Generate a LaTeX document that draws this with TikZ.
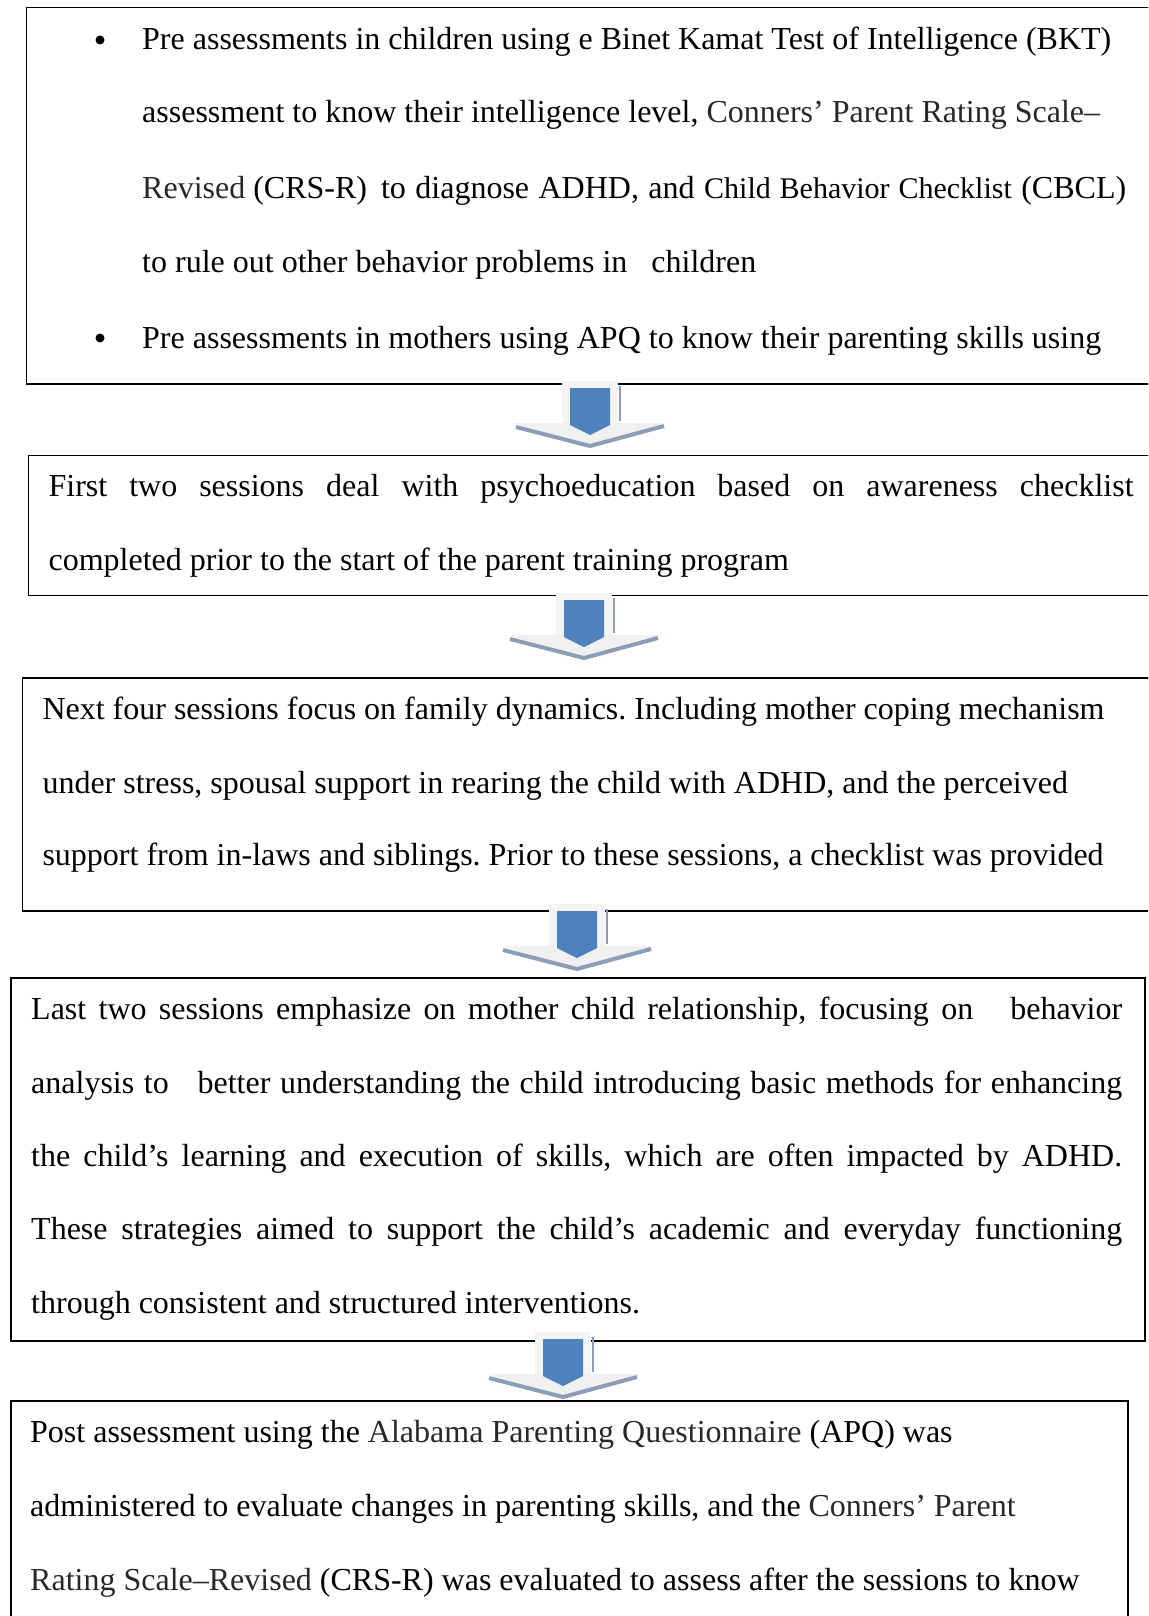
\documentclass[tikz,border=0pt]{standalone}
\usepackage{fontspec}
\setmainfont{Liberation Serif}
\frenchspacing

\definecolor{arrowblue}{HTML}{4F81BD}
\definecolor{arrowshade}{HTML}{8C9DB8}
\definecolor{namegray}{HTML}{26282B}

% one justified line of a given width
\newcommand{\jline}[2]{\makebox[#1pt][s]{#2}}
% block arrow: centre x, top y
\newcommand{\blockarrow}[2]{%
    \fill[gray!12] (#1-77,#2+40) -- (#1+77,#2+40) -- (#1,#2+64) -- cycle;
    \draw[arrowshade,line width=4pt] (#1-74,#2+44) -- (#1,#2+63) -- (#1+74,#2+43);
    \fill[gray!9] (#1-28,#2-2) rectangle (#1+28,#2+40);
    \fill[arrowblue] (#1-20,#2+5) -- (#1+20,#2+5) -- (#1+20,#2+42)
    -- (#1,#2+52) -- (#1-20,#2+42) -- cycle;
    \draw[arrowshade,line width=1.5pt] (#1+30,#2+3) -- (#1+30,#2+38);
}

\begin{document}
\begin{tikzpicture}[x=1pt,y=-1pt,
    box/.style={draw,line width=1.5pt,anchor=north west,inner sep=0pt},
    dot/.style={circle,fill,inner sep=0pt,minimum size=9pt},
    txt/.style={anchor=base west,inner sep=0pt,font=\fontsize{32}{38}\selectfont}]
    \clip (0,0) rectangle (1148,1616);

    % frames
    \node[box,minimum width=1150pt,minimum height=376pt] (pre) at (25.6,7) {};
    \node[box,minimum width=1150pt,minimum height=140pt] (psy) at (27.8,454.5) {};
    \node[box,minimum width=1150pt,minimum height=233pt] (fam) at (21.6,677) {};
    \node[box,minimum width=1134pt,minimum height=363pt] (rel) at (10.3,977) {};
    \node[box,minimum width=1117pt,minimum height=240pt] (post) at (10.3,1400) {};

    % pre assessments
    \node[dot] (bul1) at (100,40) {};
    \node[txt] (pre1) at (142,50) {Pre assessments in children using e Binet Kamat Test of Intelligence (BKT)};
    \node[txt] (pre2) at (142,123) {assessment to know their intelligence level, {\color{namegray}Conners’ Parent Rating Scale–}};
    \node[txt] (pre3) at (142,198) {\jline{984}{{\color{namegray}Revised}\hspace{8pt}(CRS-R)\hspace{14pt}to diagnose ADHD, and {\fontsize{30}{38}\selectfont Child Behavior Checklist} (CBCL)}};
    \node[txt] (pre4) at (142,272) {to rule out other behavior problems in\ \ \ children};
    \node[dot] (bul2) at (100,338) {};
    \node[txt] (pre5) at (142,348) {Pre assessments in mothers using APQ to know their parenting skills using};

    % psychoeducation
    \node[txt] (psy1) at (48.4,496) {\jline{1085}{First two sessions deal with psychoeducation based on awareness checklist}};
    \node[txt] (psy2) at (48.4,570) {completed prior to the start of the parent training program};

    % family dynamics
    \node[txt] (fam1) at (42.3,719) {Next four sessions focus on family dynamics. Including mother coping mechanism};
    \node[txt] (fam2) at (42.3,793) {under stress, spousal support in rearing the child with ADHD, and the perceived};
    \node[txt] (fam3) at (42.3,865) {support from in-laws and siblings. Prior to these sessions, a checklist was provided};

    % mother child relationship
    \node[txt] (rel1) at (31,1019) {\jline{1091}{Last two sessions emphasize on mother child relationship, focusing on\ \ \ behavior}};
    \node[txt] (rel2) at (31,1093) {\jline{1091}{analysis to\ \ \ better understanding the child introducing basic methods for enhancing}};
    \node[txt] (rel3) at (31,1166) {\jline{1091}{the child’s learning and execution of skills, which are often impacted by ADHD.}};
    \node[txt] (rel4) at (31,1239) {\jline{1091}{These strategies aimed to support the child’s academic and everyday functioning}};
    \node[txt] (rel5) at (31,1313) {through consistent and structured interventions.};

    % post assessment
    \node[txt] (post1) at (30,1442) {Post assessment using the {\color{namegray}Alabama Parenting Questionnaire} (APQ) was};
    \node[txt] (post2) at (30,1516) {administered to evaluate changes in parenting skills, and the {\color{namegray}Conners’ Parent}};
    \node[txt] (post3) at (30,1590) {{\color{namegray}Rating Scale–Revised} (CRS-R) was evaluated to assess after the sessions to know};

    % arrows between the frames
    \blockarrow{590}{383}
    \blockarrow{584}{595}
    \blockarrow{577}{906}
    \blockarrow{563}{1334}
\end{tikzpicture}
\end{document}
